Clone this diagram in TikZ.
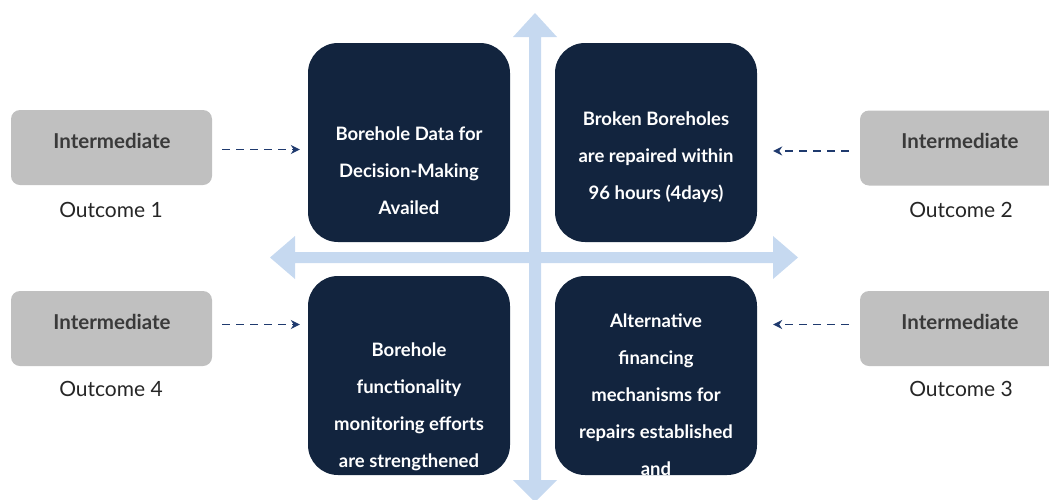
\documentclass[tikz,border=0pt]{standalone}
\usepackage{fontspec}
\setmainfont{Lato}
\usetikzlibrary{arrows.meta}
\definecolor{navy}{HTML}{12243E}
\definecolor{greybox}{HTML}{C0C0C0}
\definecolor{crossblue}{HTML}{C6D9F0}
\definecolor{dashblue}{HTML}{1F3A6E}
\definecolor{greytext}{HTML}{3A3A3A}
\definecolor{outtext}{HTML}{262626}
\begin{document}
\begin{tikzpicture}[x=1pt,y=-1pt,
  outcomebox/.style={fill=greybox,draw=none,rounded corners=9pt,minimum width=201pt,minimum height=75pt,inner sep=0pt},
  resultbox/.style={fill=navy,draw=none,rounded corners=30pt,minimum width=202pt,minimum height=199pt,inner sep=0pt},
  boxlabel/.style={text=greytext,font=\fontsize{20.5}{24}\selectfont\bfseries,inner sep=0pt},
  outlabel/.style={text=outtext,font=\fontsize{21}{24}\selectfont,inner sep=0pt},
  resulttext/.style={text=white,align=center,font=\fontsize{18.5}{37}\selectfont\bfseries,inner sep=0pt},
  feed/.style={draw=dashblue,line width=1.2pt,dash pattern=on 8pt off 6pt,-{Stealth[length=9pt,width=9pt]}},
  crossarrow/.style={fill=crossblue,draw=none}
]
\useasboundingbox (0,0) rectangle (1049,499);
\clip (0,0) rectangle (1049,499);

% central cross of light blue double arrows
\fill[crossarrow] (529,37) -- (513,37) -- (535,13) -- (557,37) -- (541,37)
  -- (541,480) -- (557,480) -- (535,502) -- (513,480) -- (529,480) -- cycle;
\fill[crossarrow] (295,252) -- (295,236) -- (270,257.5) -- (295,279) -- (295,263)
  -- (773,263) -- (773,279) -- (798,257.5) -- (773,236) -- (773,252) -- cycle;

% result boxes
\node[resultbox] (b1) at (409,142.5) {};
\node[resultbox] (b2) at (656,142.5) {};
\node[resultbox] (b4) at (409,375.5) {};
\node[resultbox] (b3) at (656,375.5) {};

\node[resulttext] (t1) at (409,171) {Borehole Data for\\Decision-Making\\Availed};
\node[resulttext] (t2) at (656,157) {Broken Boreholes\\are repaired within\\96 hours (4days)};
\node[resulttext] (t4) at (409,407) {Borehole\\functionality\\monitoring efforts\\are strengthened};
\node[resulttext] (t3) at (656,395) {Alternative\\financing\\mechanisms for\\repairs established\\and};

% intermediate outcome boxes
\node[outcomebox] (g1) at (111.5,147.5) {};
\node[outcomebox] (g2) at (960.5,148) {};
\node[outcomebox] (g4) at (111.5,328.5) {};
\node[outcomebox] (g3) at (960.5,328.5) {};

\node[boxlabel] (l1) at (112,141) {Intermediate};
\node[boxlabel] (l2) at (960,141) {Intermediate};
\node[boxlabel] (l4) at (112,322) {Intermediate};
\node[boxlabel] (l3) at (960,322) {Intermediate};

\node[outlabel] (o1) at (111,210) {Outcome 1};
\node[outlabel] (o2) at (961,210) {Outcome 2};
\node[outlabel] (o4) at (111,389) {Outcome 4};
\node[outlabel] (o3) at (961,389) {Outcome 3};

% dashed feeds into the result boxes
\draw[feed,shorten <=10pt,shorten >=8pt] ([yshift=-2pt]g1.east) -- ([yshift=-2pt]g1.east -| b1.west);
\draw[feed,shorten <=11pt,shorten >=16pt] ([yshift=-3pt]g2.west) -- ([yshift=-3pt]g2.west -| b2.east);
\draw[feed,shorten <=10pt,shorten >=8pt] ([yshift=4pt]g4.east) -- ([yshift=4pt]g4.east -| b4.west);
\draw[feed,shorten <=11pt,shorten >=16pt] ([yshift=4pt]g3.west) -- ([yshift=4pt]g3.west -| b3.east);
\end{tikzpicture}
\end{document}
